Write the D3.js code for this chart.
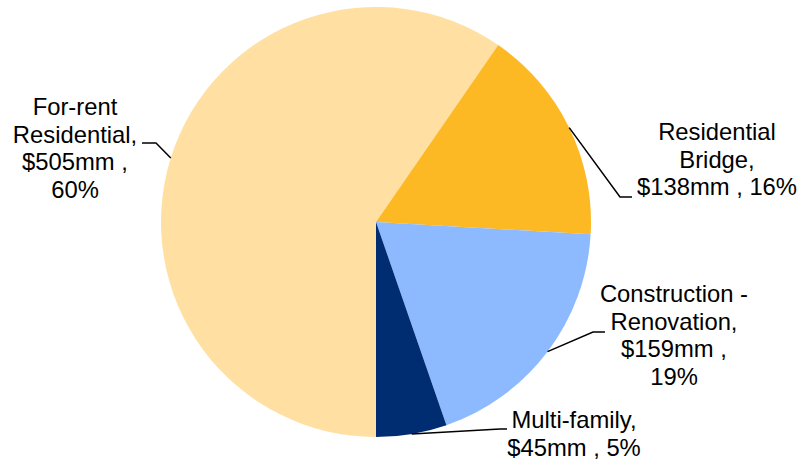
<!DOCTYPE html>
<html>
<head>
<meta charset="utf-8">
<script src="https://cdn.jsdelivr.net/npm/d3@7"></script>
<style>
  html, body { margin: 0; padding: 0; background: #fff; }
  svg { display: block; }
  text { font-family: "Liberation Sans", Arial, sans-serif; font-size: 23.8px; fill: #000; }
</style>
</head>
<body>
<svg id="chart" width="799" height="460"></svg>
<script>
// Portfolio composition by segment ($mm)
const categories = ["For-rent Residential", "Residential Bridge", "Construction - Renovation", "Multi-family"];
const values = [505, 138, 159, 45];
const colors = ["#FFE0A2", "#FDB924", "#8DBAFF", "#002D72"];

// Label text lines (the value and share lines are filled in from the data)
const labelHeads = [["For-rent", "Residential,"], ["Residential", "Bridge,"], ["Construction -", "Renovation,"], ["Multi-family,"]];
const labelLayout = [
  { cx: 75,  y: 115, bend: [156, 143], end: [142, 143], join: false },
  { cx: 717, y: 140, bend: [620, 197], end: [632, 197], join: true },
  { cx: 674, y: 302, bend: [593, 332], end: [605, 332], join: false },
  { cx: 574, y: 428, bend: [500, 429], end: [507, 429], join: true }
];

const width = 799, height = 460;
const cx = 376, cy = 222, radius = 215;
const lineH = 27.5;

const svg = d3.select("#chart");
const total = d3.sum(values);
const data = categories.map((c, i) => ({ name: c, value: values[i], color: colors[i], i }));

const pie = d3.pie()
  .value(d => d.value)
  .sort(null)
  .startAngle(Math.PI)
  .endAngle(Math.PI * 3);

const arc = d3.arc().innerRadius(0).outerRadius(radius);
const arcs = pie(data);

const g = svg.append("g").attr("transform", `translate(${cx},${cy})`);
g.selectAll("path.slice")
  .data(arcs)
  .join("path")
  .attr("class", "slice")
  .attr("d", arc)
  .attr("fill", d => d.data.color);

// Leader lines from the middle of each slice edge to its label
const edgePoint = a => {
  const mid = (a.startAngle + a.endAngle) / 2;
  return [cx + radius * Math.sin(mid), cy - radius * Math.cos(mid)];
};

svg.selectAll("path.leader")
  .data(arcs)
  .join("path")
  .attr("class", "leader")
  .attr("fill", "none")
  .attr("stroke", "#000")
  .attr("stroke-width", 1.5)
  .attr("d", a => {
    const L = labelLayout[a.index];
    return d3.line()([edgePoint(a), L.bend, L.end]);
  });

// Label texts
arcs.forEach(a => {
  const i = a.index;
  const L = labelLayout[i];
  const amount = `$${a.data.value}mm ,`;
  const pct = `${Math.round(a.data.value / total * 100)}%`;
  const lines = labelHeads[i].slice();
  if (L.join) lines.push(`${amount} ${pct}`);
  else { lines.push(amount); lines.push(pct); }
  const t = svg.append("text").attr("text-anchor", "middle");
  lines.forEach((s, k) => {
    t.append("tspan").attr("x", L.cx).attr("y", L.y + k * lineH).text(s);
  });
});
</script>
</body>
</html>
